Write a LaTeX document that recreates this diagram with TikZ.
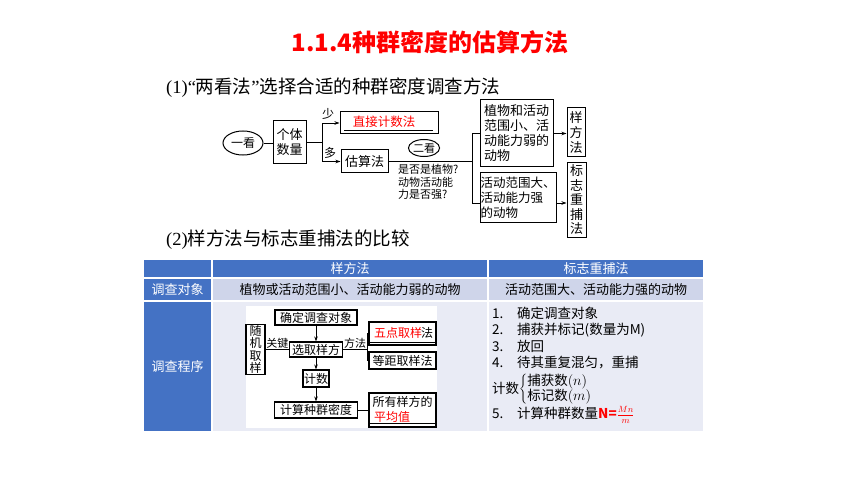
\documentclass[tikz,border=0pt]{standalone}
\usepackage{fontspec}
\setmainfont{Noto Sans CJK SC}
\newfontfamily\serifl{Liberation Serif}
\usetikzlibrary{arrows.meta,shapes.geometric}
\definecolor{hdr}{HTML}{4472C4}
\definecolor{rowa}{HTML}{CFD5EA}
\definecolor{rowb}{HTML}{E9EBF5}
\definecolor{tred}{HTML}{FF0000}
\tikzset{
  bx/.style={draw, line width=1pt, inner sep=0pt, align=center},
  ib/.style={draw, line width=1.1pt, inner sep=0pt, align=center, font=\fontsize{12}{14}\selectfont},
  ln/.style={line width=0.8pt},
  arr/.style={line width=0.8pt, -{Stealth[length=5pt,width=3.5pt]}},
  fa/.style={font=\fontsize{11}{12.5}\selectfont},
  fb/.style={font=\fontsize{12}{14}\selectfont},
  fc/.style={font=\fontsize{13}{15}\selectfont},
  cell/.style={draw=white, line width=1.5pt, inner sep=0pt, font=\fontsize{13}{15}\selectfont},
  lst/.style={anchor=west, inner sep=0pt, font=\fontsize{13.5}{16}\selectfont}
}
\begin{document}
\begin{tikzpicture}[x=1pt,y=-1pt]
\useasboundingbox (0,0) rectangle (860,484);
\fill[white] (0,0) rectangle (860,484);

% title and subtitles
\node[font=\fontsize{24}{28}\selectfont\bfseries, text=tred] (title) at (430,42) {1.1.4种群密度的估算方法};
\node[anchor=west, inner sep=0pt, font=\fontsize{18.5}{22}\selectfont] (sub1) at (166,88) {{\serifl (1)“}两看法{\serifl ”}选择合适的种群密度调查方法};
\node[anchor=west, inner sep=0pt, font=\fontsize{18.5}{22}\selectfont] (sub2) at (166,240) {{\serifl (2)}样方法与标志重捕法的比较};

% ---- top diagram ----
\node[bx, ellipse, minimum width=40pt, minimum height=24pt, fb] (yk) at (243,143) {一看};
\node[bx, minimum width=33pt, minimum height=43pt, fc] (gt) at (289.5,142) {个体\\数量};
\node[bx, minimum width=98pt, minimum height=22pt] (zj) at (389,123) {};
\node[font=\fontsize{12.5}{14}\selectfont, text=tred] (zjt) at (384,121.5) {直接计数法};
\draw[line width=1.3pt] (344,130.5) -- (433,130.5);
\node[bx, minimum width=47pt, minimum height=23pt, fc] (gs) at (364.5,161.5) {估算法};
\draw[ln] (yk.east) -- (yk.east -| gt.west);
\coordinate (f1) at (322,142);
\draw[ln] (gt.east) -- (f1);
\draw[arr] (f1) |- (zj.west);
\draw[arr] (f1) |- (gs.west);
\node[fb] (shao) at (328,114) {少};
\node[fb] (duo) at (330,153) {多};
\node[bx, ellipse, minimum width=31pt, minimum height=17pt, fa] (ek) at (424,148) {二看};
\node[anchor=north west, align=left, inner sep=0pt, fa] (q) at (398,164.5) {是否是植物?\\动物活动能\\力是否强?};
\node[bx, minimum width=73pt, minimum height=67pt, fc, align=left] (b1) at (516.5,133.5) {植物和活动\\范围小、活\\动能力弱的\\动物};
\node[bx, minimum width=76pt, minimum height=49pt, font=\fontsize{12.5}{15}\selectfont, align=left] (b2) at (518,197.5) {活动范围大、\\活动能力强\\的动物};
\coordinate (f2) at (472,161.5);
\coordinate (b2w) at (480,203);
\coordinate (b2e) at (556,203);
\draw[ln] (gs.east) -- (f2);
\draw[ln] (f2) |- (b1.west);
\draw[ln] (f2) |- (b2w);
\node[bx, minimum width=18pt, minimum height=49pt, font=\fontsize{13}{15}\selectfont] (yf) at (576,132.5) {样\\方\\法};
\node[bx, minimum width=19pt, minimum height=74pt, font=\fontsize{13}{14.5}\selectfont] (bz) at (576.5,200) {标\\志\\重\\捕\\法};
\draw[arr] (b1.east) -- (b1.east -| yf.west);
\draw[arr] (b2e) -- (b2e -| bz.west);

% ---- table ----
\node[cell, fill=hdr, minimum width=69pt, minimum height=19pt] (c11) at (177.5,268.5) {};
\node[cell, fill=hdr, minimum width=276pt, minimum height=19pt, text=white] (c12) at (350,268.5) {样方法};
\node[cell, fill=hdr, minimum width=216pt, minimum height=19pt, text=white] (c13) at (596,268.5) {标志重捕法};
\node[cell, fill=hdr, minimum width=69pt, minimum height=23pt, text=white] (c21) at (177.5,289.5) {调查对象};
\node[cell, fill=rowa, minimum width=276pt, minimum height=23pt] (c22) at (350,289.5) {植物或活动范围小、活动能力弱的动物};
\node[cell, fill=rowa, minimum width=216pt, minimum height=23pt] (c23) at (596,289.5) {活动范围大、活动能力强的动物};
\node[cell, fill=hdr, minimum width=69pt, minimum height=131pt, text=white] (c31) at (177.5,366.5) {调查程序};
\node[cell, fill=rowb, minimum width=276pt, minimum height=131pt] (c32) at (350,366.5) {};
\node[cell, fill=rowb, minimum width=216pt, minimum height=131pt] (c33) at (596,366.5) {};

% inner flowchart panel
\fill[white] (246,306) rectangle (437,428);
\node[ib, minimum width=82pt, minimum height=15pt] (qd) at (316,317.5) {确定调查对象};
\node[ib, minimum width=53pt, minimum height=15pt] (xq) at (316,349.5) {选取样方};
\node[ib, minimum width=19pt, minimum height=50pt, font=\fontsize{12}{12.5}\selectfont] (sj) at (255.5,349.5) {随\\机\\取\\样};
\node[ib, minimum width=26pt, minimum height=17pt] (js) at (316,378.5) {计数};
\node[ib, minimum width=83pt, minimum height=16pt] (jss) at (316,410) {计算种群密度};
\node[ib, minimum width=67pt, minimum height=23pt] (wd) at (402.5,333.5) {};
\node[fb, anchor=west, inner sep=0pt] (wdf) at (421,333) {法};
\node[fb, anchor=west, inner sep=0pt, text=tred] (wdt) at (374,333) {五点取样};
\draw[line width=1pt] (370,342.5) -- (435,342.5);
\node[ib, minimum width=67pt, minimum height=17pt] (dj) at (402.5,360.5) {等距取样法};
\node[ib, minimum width=67pt, minimum height=34pt] (pj) at (402.5,410) {};
\node[fb, inner sep=0pt] (pjt) at (402.5,402) {所有样方的};
\node[fb, anchor=west, inner sep=0pt, text=tred] (pjr) at (374,416.5) {平均值};
\draw[line width=1pt] (370,423) -- (435,423);
\draw[arr] (qd) -- (xq);
\draw[arr] (xq) -- (js);
\draw[arr] (js) -- (jss);
\draw[ln] (sj.east) -- node[above, fa, inner sep=1pt] {关键} (xq.west);
\coordinate (f3) at (367,349.5);
\draw[ln] (xq.east) -- node[above, fa, inner sep=1pt] {方法} (f3);
\draw[ln] (f3) |- (wd.west);
\draw[ln] (f3) |- (dj.west);
\draw[ln] (jss.east) -- (pj.west);

% right column list
\node[lst] (l1) at (492,313) {\makebox[25pt][l]{1.}确定调查对象};
\node[lst] (l2) at (492,330) {\makebox[25pt][l]{2.}捕获并标记(数量为M)};
\node[lst] (l3) at (492,346.5) {\makebox[25pt][l]{3.}放回};
\node[lst] (l4) at (492,362.5) {\makebox[25pt][l]{4.}待其重复混匀，重捕};
\node[lst] (l5) at (492,389.5) {计数$\left\{\renewcommand\arraystretch{0.92}\begin{tabular}{@{}l@{}}捕获数$(n)$\\标记数$(m)$\end{tabular}\right.$};
\node[lst] (l6) at (492,415) {\makebox[25pt][l]{5.}计算种群数量\textcolor{tred}{\bfseries N=$\frac{Mn}{m}$}};
\end{tikzpicture}
\end{document}
